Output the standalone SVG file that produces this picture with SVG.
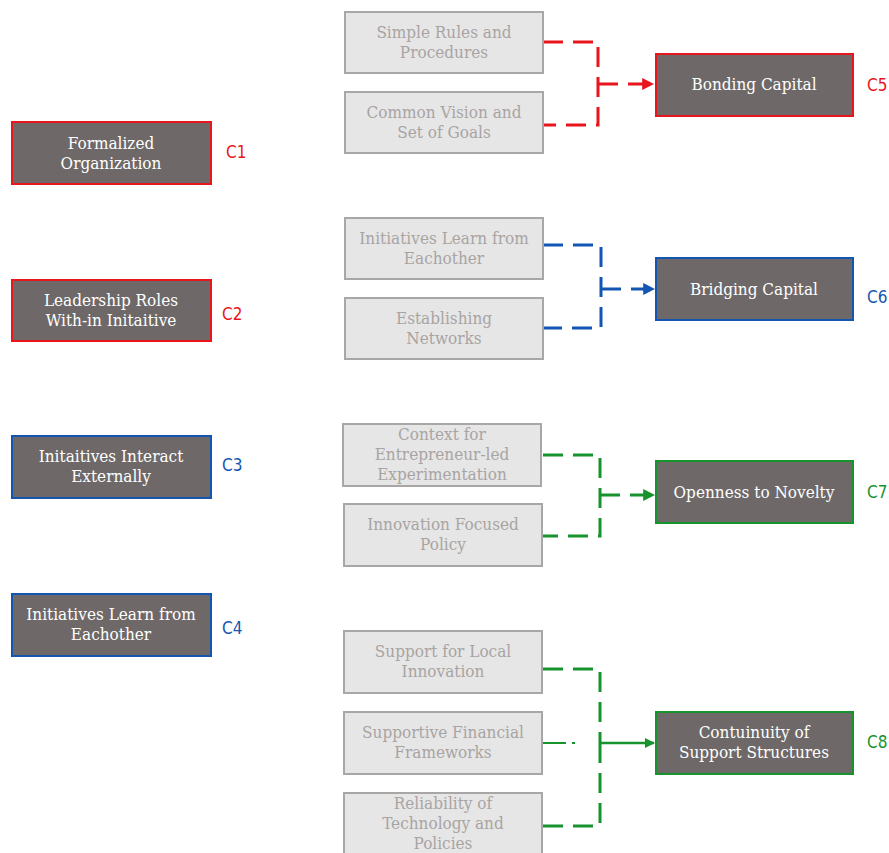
<svg xmlns="http://www.w3.org/2000/svg" width="889" height="853" viewBox="0 0 889 853">
<style>
.dark{fill:#6e6968;stroke-width:2}
.lite{fill:#e6e6e6;stroke:#a9a7a6;stroke-width:2}
.r{stroke:#e8161c}.b{stroke:#1256b1}.g{stroke:#17932d}
.tw{font-family:"DejaVu Serif","Liberation Serif",serif;font-size:17px;fill:#ffffff;text-anchor:middle;font-stretch:condensed}
.tg{font-family:"DejaVu Serif","Liberation Serif",serif;font-size:17px;fill:#a8a4a3;text-anchor:middle;font-stretch:condensed}
.lab{font-family:"DejaVu Sans","Liberation Sans",sans-serif;font-size:17px;font-stretch:condensed}
.c{fill:none;stroke-width:3;stroke-dasharray:20 10}
</style>
<defs>
<marker id="ar" viewBox="0 0 10 10" refX="9" refY="5" markerWidth="4" markerHeight="4" orient="auto"><path d="M0,0L10,5L0,10z" fill="#e8161c"/></marker>
<marker id="ab" viewBox="0 0 10 10" refX="9" refY="5" markerWidth="4" markerHeight="4" orient="auto"><path d="M0,0L10,5L0,10z" fill="#1256b1"/></marker>
<marker id="ag" viewBox="0 0 10 10" refX="9" refY="5" markerWidth="4" markerHeight="4" orient="auto"><path d="M0,0L10,5L0,10z" fill="#17932d"/></marker>
</defs>
<rect width="889" height="853" fill="#ffffff"/>
<g id="connectors">
<path class="c r" d="M543,42H598V125H543"/>
<path class="c r" d="M598,84H653" marker-end="url(#ar)"/>
<path class="c b" d="M543,245H601V328H543"/>
<path class="c b" d="M601,289H654" marker-end="url(#ab)"/>
<path class="c g" d="M543,455H600V536H543"/>
<path class="c g" d="M600,495H654" marker-end="url(#ag)"/>
<path class="c g" d="M543,669H600V743"/>
<path class="c g" d="M543,826H600V743"/>
<path class="g" d="M543,743H575" fill="none" stroke-width="2" stroke-dasharray="23 6"/>
<path class="g" d="M601,743H654" fill="none" stroke-width="2.5" marker-end="url(#ag)"/>
</g>
<g id="c1"><rect class="dark r" x="12" y="122" width="199" height="62"/><text class="tw" x="111" y="149">Formalized</text><text class="tw" x="111" y="169">Organization</text><text class="lab" x="226" y="158" fill="#e8161c">C1</text></g>
<g id="c2"><rect class="dark r" x="12" y="280" width="199" height="61"/><text class="tw" x="111" y="306">Leadership Roles</text><text class="tw" x="111" y="326">With-in Initaitive</text><text class="lab" x="222" y="320" fill="#e8161c">C2</text></g>
<g id="c3"><rect class="dark b" x="12" y="436" width="199" height="62"/><text class="tw" x="111" y="462">Initaitives Interact</text><text class="tw" x="111" y="482">Externally</text><text class="lab" x="222" y="471" fill="#1256b1">C3</text></g>
<g id="c4"><rect class="dark b" x="12" y="594" width="199" height="62"/><text class="tw" x="111" y="620">Initiatives Learn from</text><text class="tw" x="111" y="640">Eachother</text><text class="lab" x="222" y="634" fill="#1256b1">C4</text></g>
<g id="m1"><rect class="lite" x="345" y="12" width="198" height="61"/><text class="tg" x="444" y="38">Simple Rules and</text><text class="tg" x="444" y="58">Procedures</text></g>
<g id="m2"><rect class="lite" x="345" y="92" width="198" height="61"/><text class="tg" x="444" y="118">Common Vision and</text><text class="tg" x="444" y="138">Set of Goals</text></g>
<g id="m3"><rect class="lite" x="345" y="218" width="198" height="61"/><text class="tg" x="444" y="244">Initiatives Learn from</text><text class="tg" x="444" y="264">Eachother</text></g>
<g id="m4"><rect class="lite" x="345" y="298" width="198" height="61"/><text class="tg" x="444" y="324">Establishing</text><text class="tg" x="444" y="344">Networks</text></g>
<g id="m5"><rect class="lite" x="343" y="424" width="198" height="62"/><text class="tg" x="442" y="440">Context for</text><text class="tg" x="442" y="460">Entrepreneur-led</text><text class="tg" x="442" y="480">Experimentation</text></g>
<g id="m6"><rect class="lite" x="344" y="504" width="198" height="62"/><text class="tg" x="443" y="530">Innovation Focused</text><text class="tg" x="443" y="550">Policy</text></g>
<g id="m7"><rect class="lite" x="344" y="631" width="198" height="62"/><text class="tg" x="443" y="657">Support for Local</text><text class="tg" x="443" y="677">Innovation</text></g>
<g id="m8"><rect class="lite" x="344" y="712" width="198" height="62"/><text class="tg" x="443" y="738">Supportive Financial</text><text class="tg" x="443" y="758">Frameworks</text></g>
<g id="m9"><rect class="lite" x="344" y="793" width="198" height="70"/><text class="tg" x="443" y="809">Reliability of</text><text class="tg" x="443" y="829">Technology and</text><text class="tg" x="443" y="849">Policies</text></g>
<g id="c5"><rect class="dark r" x="656" y="54" width="197" height="62"/><text class="tw" x="754" y="90">Bonding Capital</text><text class="lab" x="867" y="91" fill="#e8161c">C5</text></g>
<g id="c6"><rect class="dark b" x="656" y="258" width="197" height="62"/><text class="tw" x="754" y="295">Bridging Capital</text><text class="lab" x="867" y="303" fill="#1256b1">C6</text></g>
<g id="c7"><rect class="dark g" x="656" y="461" width="197" height="62"/><text class="tw" x="754" y="498">Openness to Novelty</text><text class="lab" x="867" y="498" fill="#17932d">C7</text></g>
<g id="c8"><rect class="dark g" x="656" y="712" width="197" height="62"/><text class="tw" x="754" y="738">Contuinuity of</text><text class="tw" x="754" y="758">Support Structures</text><text class="lab" x="867" y="748" fill="#17932d">C8</text></g>
</svg>
